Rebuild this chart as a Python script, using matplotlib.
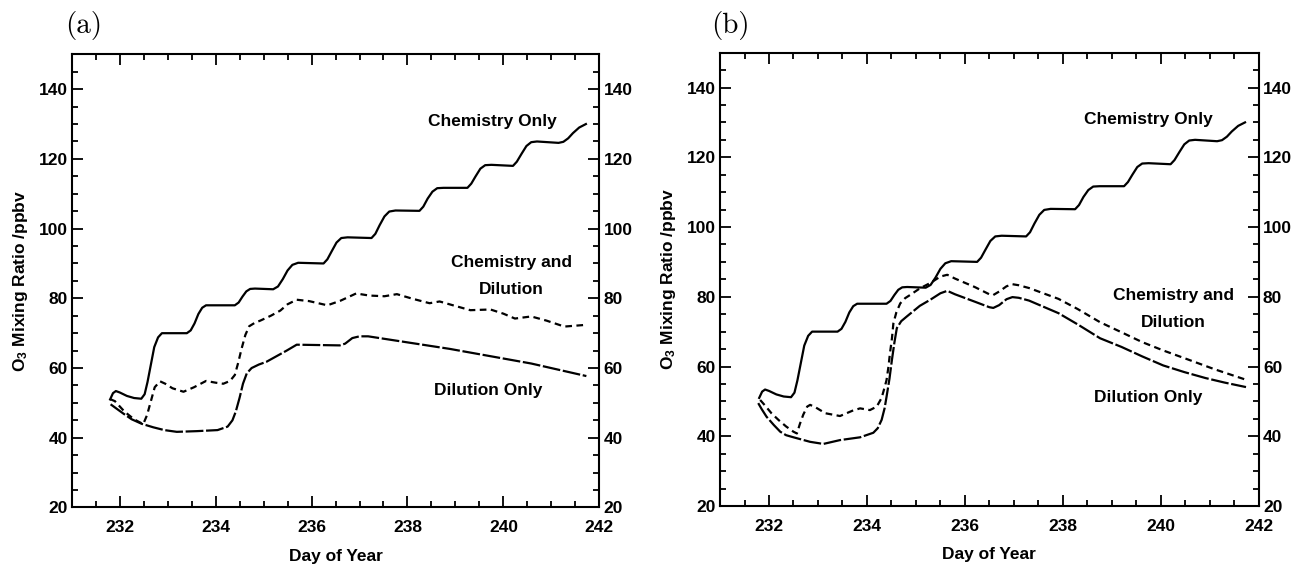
import numpy as np
import matplotlib
matplotlib.use("Agg")
import matplotlib.pyplot as plt
from matplotlib.ticker import MultipleLocator

plt.rcParams['font.family'] = ['Liberation Sans', 'DejaVu Sans']
plt.rcParams['mathtext.default'] = 'regular'

# chemistry only (same run in both panels)
chem_day = [231.80, 231.86, 231.92, 232.00, 232.15, 232.30, 232.45, 232.52, 232.58, 232.65,
            232.72, 232.80, 232.88, 233.40, 233.48, 233.56, 233.64, 233.72, 233.80,
            234.40, 234.48, 234.56, 234.64, 234.72, 234.82, 235.20, 235.30, 235.40,
            235.50, 235.60, 235.72, 236.25, 236.33, 236.42, 236.52, 236.62, 236.75,
            237.25, 237.33, 237.42, 237.52, 237.62, 237.75, 238.25, 238.33, 238.42,
            238.52, 238.62, 238.75, 239.25, 239.33, 239.42, 239.52, 239.62, 239.75,
            240.20, 240.28, 240.38, 240.48, 240.58, 240.70, 241.15, 241.25, 241.35,
            241.45, 241.58, 241.72]
chem_o3 = [51.0, 52.8, 53.4, 53.0, 52.0, 51.4, 51.2, 52.5, 56.0, 61.0,
           66.0, 68.8, 70.0, 70.0, 70.8, 72.8, 75.5, 77.3, 78.0,
           78.0, 78.8, 80.5, 82.0, 82.7, 82.8, 82.6, 83.4, 85.5,
           88.0, 89.6, 90.2, 90.0, 91.2, 93.5, 96.0, 97.3, 97.5,
           97.3, 98.5, 101.0, 103.5, 104.9, 105.2, 105.1, 106.3, 108.6,
           110.6, 111.6, 111.7, 111.7, 112.9, 115.0, 117.2, 118.2, 118.3,
           118.0, 119.2, 121.5, 123.7, 124.8, 125.0, 124.6, 124.9, 125.9,
           127.4, 129.0, 130.0]

# panel (a)
dil_a_day = [231.81, 231.95, 232.08, 232.25, 232.46, 232.70, 232.93, 233.19, 233.61,
             234.04, 234.25, 234.35, 234.42, 234.50, 234.57, 234.65, 234.75, 234.90,
             235.06, 235.48, 235.69, 236.59, 236.70, 236.85, 237.00, 237.18,
             238.03, 238.88, 239.73, 240.58, 241.73]
dil_a_o3 = [49.6, 48.2, 46.9, 45.3, 44.0, 43.0, 42.2, 41.7, 41.9,
            42.2, 43.2, 45.0, 47.5, 51.5, 55.5, 58.5, 60.0, 61.0,
            61.8, 65.0, 66.7, 66.5, 67.0, 68.6, 69.1, 69.1,
            67.3, 65.5, 63.4, 61.3, 57.7]
both_a_day = [231.80, 231.90, 232.10, 232.30, 232.49, 232.57, 232.65, 232.73, 232.84,
              232.95, 233.10, 233.33, 233.55, 233.80, 234.00, 234.16, 234.30, 234.40,
              234.47, 234.54, 234.62, 234.70, 234.82, 234.93, 235.15, 235.35, 235.50,
              235.69, 235.95, 236.33, 236.60, 236.93, 237.20, 237.52, 237.78, 238.10,
              238.46, 238.67, 238.95, 239.31, 239.73, 240.00, 240.24, 240.58, 240.90,
              241.27, 241.73]
both_a_o3 = [51.1, 50.5, 47.5, 45.3, 43.9, 46.5, 50.5, 54.5, 56.2,
             55.5, 54.2, 53.2, 54.5, 56.3, 55.8, 55.5, 56.3, 58.0,
             61.5, 65.5, 69.5, 72.0, 73.0, 73.6, 75.0, 76.5, 78.3,
             79.6, 79.2, 78.0, 79.3, 81.4, 80.8, 80.6, 81.2, 79.9,
             78.6, 79.1, 78.0, 76.6, 76.8, 75.6, 74.2, 74.8, 73.6,
             71.9, 72.4]

# panel (b)
dil_b_day = [231.78, 231.85, 231.95, 232.10, 232.23, 232.35, 232.50, 232.84, 233.11,
             233.45, 233.86, 234.13, 234.22, 234.30, 234.36, 234.40, 234.46, 234.51,
             234.56, 234.61, 234.70, 234.81, 235.08, 235.30, 235.50, 235.64, 235.80,
             236.20, 236.50, 236.58, 236.70, 236.85, 236.97, 237.10, 237.31, 237.91,
             238.30, 238.76, 239.20, 239.62, 240.05, 240.48, 240.91, 241.30, 241.74]
dil_b_o3 = [49.5, 47.8, 45.6, 43.2, 41.3, 40.3, 39.7, 38.4, 37.8,
            38.9, 39.7, 41.0, 42.3, 44.7, 48.0, 51.3, 56.5, 61.9,
            66.8, 71.0, 73.0, 74.3, 77.4, 79.2, 81.0, 81.7, 80.7,
            78.6, 77.0, 76.8, 77.6, 79.3, 79.9, 79.7, 78.9, 75.3,
            72.1, 68.1, 65.6, 62.9, 60.3, 58.4, 56.7, 55.4, 54.1]
both_b_day = [231.82, 231.92, 232.05, 232.20, 232.35, 232.50, 232.57, 232.63, 232.70,
              232.78, 232.84, 232.95, 233.15, 233.45, 233.70, 233.86, 234.06, 234.20,
              234.30, 234.36, 234.40, 234.44, 234.47, 234.51, 234.54, 234.60, 234.68,
              234.78, 234.88, 235.08, 235.30, 235.50, 235.64, 235.80, 236.20, 236.50,
              236.58, 236.70, 236.85, 236.97, 237.10, 237.31, 237.91, 238.30, 238.76,
              239.20, 239.62, 240.05, 240.48, 241.10, 241.74]
both_b_o3 = [50.4, 48.8, 46.6, 44.6, 42.8, 41.3, 40.8, 43.5, 46.2,
             48.5, 49.0, 48.3, 46.6, 45.8, 47.3, 48.0, 47.5, 48.5,
             51.0, 54.0, 56.1, 60.0, 63.8, 68.0, 72.4, 75.5, 78.1,
             79.6, 80.5, 82.4, 84.0, 85.8, 86.3, 85.2, 82.8, 80.7,
             80.5, 81.5, 83.0, 83.6, 83.3, 82.5, 79.4, 76.5, 72.7,
             69.8, 67.0, 64.6, 62.4, 59.2, 56.2]

labels_a = [("Chemistry Only", 239.78, 130.7), ("Chemistry and", 240.16, 90.2),
            ("Dilution", 240.16, 82.5), ("Dilution Only", 239.69, 53.6)]
labels_b = [("Chemistry Only", 239.75, 130.8), ("Chemistry and", 240.26, 80.5),
            ("Dilution", 240.26, 72.5), ("Dilution Only", 239.75, 51.0)]


def plot_panel(ax, dil_day, dil_o3, both_day, both_o3, labels):
    ax.plot(chem_day, chem_o3, color='black', lw=1.6)
    ax.plot(dil_day, dil_o3, color='black', lw=1.6, linestyle=(0, (8, 1.2)))
    ax.plot(both_day, both_o3, color='black', lw=1.6, linestyle=(0, (3, 2)))
    for txt, x, y in labels:
        ax.text(x, y, txt, fontsize=12.5, fontweight='bold', ha='center', va='center')
    ax.set_xlim(231, 242)
    ax.set_ylim(20, 150)
    ax.xaxis.set_major_locator(MultipleLocator(2))
    ax.xaxis.set_minor_locator(MultipleLocator(0.5))
    ax.yaxis.set_minor_locator(MultipleLocator(5))
    ax.set_yticks(range(20, 141, 20))
    ax.tick_params(which='both', direction='in', top=True, right=True,
                   labelright=True, width=1.3, labelsize=12.5)
    ax.tick_params(which='major', length=8)
    ax.tick_params(which='minor', length=4)
    ax.tick_params(axis='x', pad=9)
    ax.tick_params(axis='y', pad=3)
    for lab in ax.get_xticklabels() + ax.get_yticklabels():
        lab.set_fontweight('bold')
    for s in ax.spines.values():
        s.set_linewidth(1.5)
    ax.set_xlabel("Day of Year", fontsize=12.5, fontweight='bold', labelpad=10)
    ax.set_ylabel("O$_3$ Mixing Ratio /ppbv", fontsize=12.5, fontweight='bold', labelpad=6)


fig = plt.figure(figsize=(12.95, 5.66), dpi=100)
ax1 = fig.add_axes([0.0554, 0.1034, 0.4074, 0.8006])
ax2 = fig.add_axes([0.556, 0.106, 0.416, 0.801])
plot_panel(ax1, dil_a_day, dil_a_o3, both_a_day, both_a_o3, labels_a)
plot_panel(ax2, dil_b_day, dil_b_o3, both_b_day, both_b_o3, labels_b)

fig.text(0.0645, 0.955, "(a)", family='cmr10', fontsize=21, ha='center', va='center')
fig.text(0.5637, 0.955, "(b)", family='cmr10', fontsize=21, ha='center', va='center')

fig.savefig("out.png", dpi=100)
